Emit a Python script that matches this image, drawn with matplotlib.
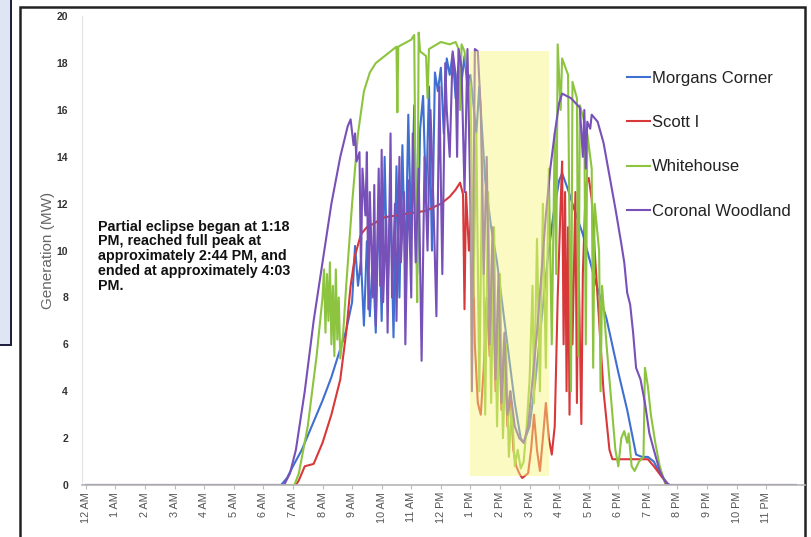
import matplotlib
matplotlib.use("Agg")
import matplotlib.pyplot as plt
from matplotlib.patches import Rectangle

plt.rcParams['font.family'] = ['Liberation Sans', 'DejaVu Sans']

# hour of day (0 = 12 AM) and generation in MW
morgans_t = [0, 6.6, 6.8, 7.0, 7.3, 7.6, 8.0, 8.3, 8.6, 8.8, 9.0, 9.1, 9.2, 9.3, 9.4, 9.5,
             9.6, 9.7, 9.8, 9.9, 10.0, 10.1, 10.2, 10.3, 10.4, 10.5, 10.6, 10.7, 10.8, 10.9,
             11.0, 11.1, 11.2, 11.3, 11.4, 11.5, 11.6, 11.7, 11.8, 11.9, 12.0, 12.1, 12.2,
             12.3, 12.4, 12.5, 12.6, 12.7, 12.8, 12.9, 13.0, 13.2, 13.3, 13.5, 13.7, 13.9,
             14.1, 14.3, 14.5, 14.7, 14.8, 15.0, 15.2, 15.4, 15.6, 15.8, 16.0, 16.1, 16.3,
             16.5, 16.8, 17.2, 17.6, 18.0, 18.3, 18.6, 18.8, 19.0, 19.2, 19.4, 19.7, 24]
morgans_v = [0, 0, 0.3, 0.8, 1.5, 2.4, 3.6, 4.6, 5.8, 6.6, 7.8, 10.2, 8.5, 9.6, 6.8, 10.4,
             7.2, 9.8, 6.5, 12.0, 7.0, 14.0, 8.2, 12.2, 6.3, 13.6, 8.0, 14.5, 9.0, 15.8,
             10.5, 16.2, 9.0, 15.2, 16.6, 12.0, 17.0, 10.0, 17.6, 16.8, 17.8, 15.0, 18.2,
             17.5, 18.4, 16.5, 18.0, 17.2, 18.3, 17.0, 17.5, 15.0, 17.0, 13.0, 11.0, 9.5,
             7.5, 5.5, 3.5, 2.0, 1.8, 2.5, 4.5, 7.0, 9.5, 11.5, 13.0, 13.3, 12.6,
             11.8, 10.7, 8.8, 7.1, 4.8, 3.2, 1.3, 1.2, 1.2, 1.0, 0.5, 0, 0]

scott_t = [0, 7.1, 7.2, 7.4, 7.7, 8.0, 8.3, 8.6, 8.8, 8.95, 9.1, 9.3, 9.5, 9.8, 10.0, 10.5,
           11.0, 11.5, 12.0, 12.3, 12.5, 12.65, 12.75, 12.8, 12.85, 12.95, 13.05, 13.15,
           13.25, 13.35, 13.45, 13.55, 13.65, 13.75, 13.85, 13.95, 14.05, 14.15, 14.25,
           14.35, 14.45, 14.55, 14.65, 14.75, 14.85, 14.95, 15.05, 15.15, 15.25, 15.35,
           15.45, 15.55, 15.65, 15.75, 15.85, 15.95, 16.05, 16.1, 16.15, 16.2, 16.25, 16.3,
           16.35, 16.4, 16.45, 16.55, 16.6, 16.65, 16.75, 16.8, 16.9, 17.0, 17.1, 17.2,
           17.35, 17.5, 17.7, 17.8, 18.0, 18.5, 19.0, 19.2, 19.5, 19.7, 24]
scott_v = [0, 0, 0.2, 0.8, 0.9, 1.8, 3.0, 4.5, 6.5, 8.5, 9.8, 10.7, 11.0, 11.2, 11.4, 11.5,
           11.6, 11.7, 12.0, 12.3, 12.6, 12.9, 12.4, 7.5, 12.5, 10.0, 12.0, 6.0,
           3.5, 3.0, 5.0, 8.0, 5.5, 9.0, 4.0, 7.5, 3.2, 6.0, 2.5,
           4.0, 1.5, 0.8, 0.5, 0.3, 0.4, 0.5, 1.5, 3.0, 1.5, 0.6,
           2.0, 3.5, 2.0, 1.3, 2.5, 8.0, 12.0, 13.8, 6.0, 12.5, 4.0, 11.0,
           3.0, 10.0, 6.0, 12.5, 3.5, 10.0, 2.6, 9.0, 12.8, 13.1, 12.2, 10.0,
           7.0, 4.0, 1.5, 1.1, 1.1, 1.1, 1.1, 0.8, 0.3, 0, 0]

white_t = [0, 7.05, 7.2, 7.5, 7.8, 8.0, 8.05, 8.1, 8.15, 8.2, 8.25, 8.3, 8.35, 8.4, 8.45,
           8.5, 8.55, 8.6, 8.7, 8.8, 9.0, 9.2, 9.4, 9.6, 9.8, 10.0, 10.3, 10.5, 10.53,
           10.56, 11.0, 11.1, 11.15, 11.2, 11.25, 11.3, 11.5, 11.55, 11.6, 12.0, 12.3, 12.5,
           12.6, 12.65, 12.7, 12.8, 12.9, 13.0, 13.1, 13.2, 13.3, 13.4, 13.5, 13.6, 13.7,
           13.8, 13.9, 14.0, 14.1, 14.2, 14.3, 14.4, 14.5, 14.6, 14.7, 14.8, 14.9, 15.0,
           15.1, 15.15, 15.25, 15.35, 15.45, 15.55, 15.65, 15.75, 15.85, 15.9, 15.95, 16.05,
           16.1, 16.3, 16.4, 16.45, 16.6, 16.65, 16.7, 16.85, 16.9, 16.95, 17.1, 17.15,
           17.2, 17.35, 17.4, 17.45, 17.6, 17.8, 17.9, 18.0, 18.1, 18.2, 18.3, 18.35,
           18.45, 18.55, 18.7, 18.85, 18.9, 19.0, 19.1, 19.25, 19.4, 19.6, 24]
white_v = [0, 0, 0.5, 2.5, 5.5, 8.0, 9.2, 6.5, 9.0, 7.0, 9.5, 6.0, 8.5, 5.5, 9.2,
           6.2, 8.0, 5.4, 6.5, 8.5, 12.0, 15.0, 16.8, 17.6, 18.0, 18.2, 18.5, 18.7, 15.9,
           18.7, 19.0, 19.2, 12.0, 7.8, 19.3, 18.5, 18.3, 16.5, 18.6, 18.9, 18.8, 18.9,
           18.6, 16.0, 18.8, 18.5, 17.5, 17.0, 8.0, 15.0, 4.0, 14.0, 3.0, 12.5, 3.5,
           11.0, 2.5, 9.0, 2.0, 6.0, 1.2, 3.5, 0.8, 1.5, 0.7, 1.0, 2.5, 4.5,
           8.5, 3.5, 10.5, 4.0, 12.0, 5.0, 13.5, 6.0, 15.0, 9.0, 18.8, 16.0,
           18.2, 17.5, 4.0, 17.2, 16.5, 5.5, 16.2, 15.5, 6.0, 15.0, 13.5, 5.0,
           12.0, 10.0, 4.0, 8.5, 6.0, 3.0, 1.5, 0.8, 2.0, 2.3, 1.8, 2.2,
           0.8, 0.6, 1.0, 1.2, 5.0, 4.2, 3.0, 1.8, 0.8, 0, 0]

coronal_t = [0, 6.7, 6.9, 7.1, 7.4, 7.7, 8.0, 8.3, 8.6, 8.85, 8.95, 9.05, 9.1, 9.15, 9.25,
             9.3, 9.35, 9.45, 9.5, 9.55, 9.6, 9.7, 9.75, 9.8, 9.9, 9.95, 10.0, 10.05, 10.15,
             10.2, 10.3, 10.35, 10.45, 10.5, 10.6, 10.65, 10.75, 10.8, 10.9, 11.0, 11.05,
             11.15, 11.25, 11.35, 11.45, 11.55, 11.65, 11.75, 11.85, 11.95, 12.05, 12.15,
             12.2, 12.3, 12.4, 12.5, 12.55, 12.6, 12.7, 12.8, 12.9, 13.0, 13.05, 13.15,
             13.25, 13.35, 13.45, 13.55, 13.65, 13.75, 13.85, 13.95, 14.05, 14.15, 14.25,
             14.35, 14.5, 14.65, 14.8, 14.95, 15.1, 15.25, 15.4, 15.55, 15.7, 15.85, 16.0,
             16.1, 16.4, 16.7, 16.8, 16.85, 16.9, 16.95, 17.05, 17.1, 17.3, 17.5, 17.7,
             17.9, 18.1, 18.2, 18.3, 18.4, 18.5, 18.6, 18.75, 18.9, 19.05, 19.2, 19.4,
             19.6, 19.75, 24]
coronal_v = [0, 0, 0.5, 1.5, 4.0, 7.0, 9.5, 12.0, 14.0, 15.3, 15.6, 14.5, 15.0, 13.8, 14.2,
             9.0, 13.5, 11.5, 14.2, 7.5, 12.5, 8.0, 12.8, 6.8, 13.5, 8.5, 14.3, 7.8, 11.5,
             6.5, 15.0, 8.0, 12.0, 7.0, 14.0, 9.5, 12.5, 6.0, 13.0, 8.0, 15.0,
             9.5, 13.5, 5.3, 14.0, 10.0, 16.0, 12.0, 7.2, 17.0, 9.0, 18.0,
             16.0, 14.0, 18.5, 17.5, 14.0, 18.6, 17.8, 12.5, 18.6, 12.0, 4.0, 18.6,
             18.5, 16.0, 9.0, 14.0, 6.0, 11.0, 4.5, 9.0, 3.5, 6.5, 3.0,
             4.0, 2.5, 2.0, 1.8, 2.5, 4.5, 6.5, 9.0, 11.5, 13.5, 15.0, 16.3,
             16.7, 16.5, 16.1, 14.0, 16.0, 13.5, 15.5, 15.2, 15.8, 15.5, 14.6, 13.2,
             11.8, 10.3, 9.5, 8.2, 7.7, 6.5, 5.0, 4.5, 3.5, 2.2, 1.5, 0.6,
             0.1, 0, 0]

series = [
    ("Morgans Corner", morgans_t, morgans_v, "#3f6fd0"),
    ("Scott I", scott_t, scott_v, "#d8383a"),
    ("Whitehouse", white_t, white_v, "#8cc440"),
    ("Coronal Woodland", coronal_t, coronal_v, "#7750b8"),
]

hour_labels = ["12 AM"] + ["%d AM" % h for h in range(1, 12)] + ["12 PM"] + \
              ["%d PM" % h for h in range(1, 12)]

eclipse_start = 13.0
eclipse_end = 15.65
eclipse_low = 0.4
eclipse_high = 18.5

note = ("Partial eclipse began at 1:18\nPM, reached full peak at\n"
        "approximately 2:44 PM, and\nended at approximately 4:03\nPM.")

fig = plt.figure(figsize=(8.12, 5.37), dpi=100)

# screenshot surroundings: a side panel and the frame of the chart
fig.patches.append(Rectangle((-0.01, 0.357), 0.023, 0.66, transform=fig.transFigure,
                             facecolor="#dfe5f3", edgecolor="#1c1c3a", lw=1.4, zorder=-10))
fig.patches.append(Rectangle((0.025, -0.02), 0.966, 1.007, transform=fig.transFigure,
                             facecolor="white", edgecolor="#222222", lw=1.8, zorder=-10))

ax = fig.add_axes([0.101, 0.0968, 0.890, 0.873])
ax.set_facecolor("none")

for name, t, v, c in series:
    ax.plot(t, v, color=c, lw=1.5, label=name, zorder=2)

ax.add_patch(Rectangle((eclipse_start, eclipse_low), eclipse_end - eclipse_start,
                       eclipse_high - eclipse_low, facecolor="#f8f47a", alpha=0.45,
                       edgecolor="none", zorder=3))

ax.set_xlim(-0.13, 24.3)
ax.set_ylim(0, 20)
ax.set_xticks(range(24))
ax.set_xticklabels(hour_labels, rotation=90, fontsize=7.8, color="#555555")
ax.set_yticks(range(0, 21, 2))
ax.set_yticklabels([str(v) for v in range(0, 21, 2)], fontsize=7.5,
                   fontweight="bold", color="#333333")
ax.tick_params(axis="x", length=3, color="#bbbbbb", pad=2)
ax.tick_params(axis="y", length=0, pad=10)
for s in ["top", "right"]:
    ax.spines[s].set_visible(False)
ax.spines["left"].set_color("#e2e2e2")
ax.spines["bottom"].set_color("#b5b5b5")
ax.spines["bottom"].set_linewidth(1.2)

ax.set_ylabel("Generation (MW)", fontsize=11, color="#666666", labelpad=1)

ax.text(0.022, 0.566, note, transform=ax.transAxes, fontsize=10.3, fontweight="bold",
        va="top", ha="left", linespacing=1.07, color="#111111")

ax.legend(loc="upper left", bbox_to_anchor=(0.733, 0.915), frameon=False,
          fontsize=12, handlelength=1.4, handletextpad=0.1, labelspacing=1.75,
          labelcolor="#222222")

fig.savefig("out.png", dpi=100)
